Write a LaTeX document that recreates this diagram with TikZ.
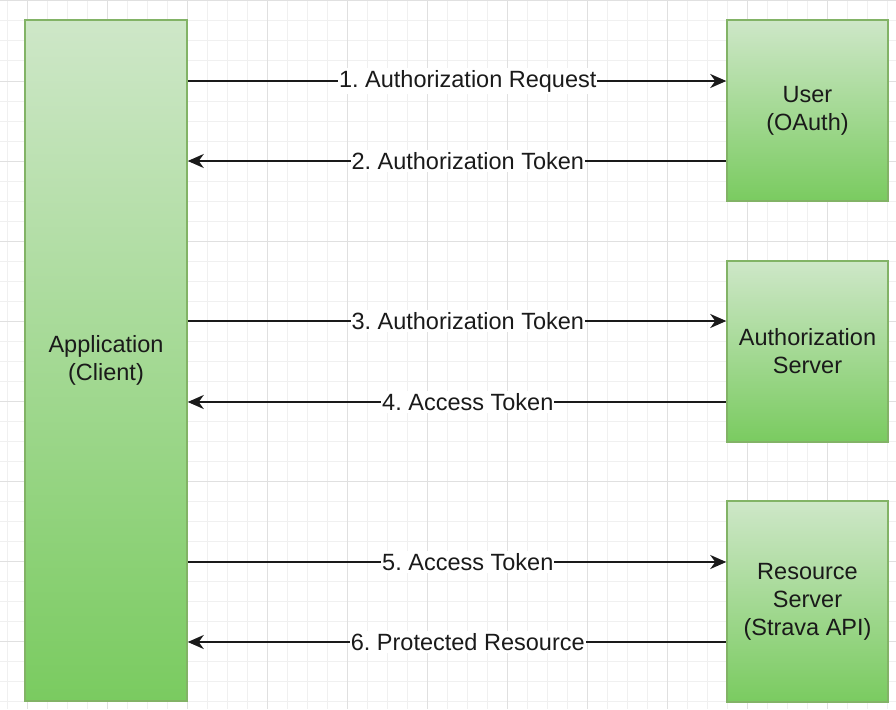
\documentclass[tikz,border=0pt]{standalone}
\usepackage{fontspec}
\setmainfont{Liberation Sans}
\usetikzlibrary{arrows.meta}
\definecolor{boxtop}{RGB}{206,231,200}
\definecolor{boxbot}{RGB}{122,203,96}
\definecolor{boxline}{RGB}{130,179,102}
\definecolor{ink}{RGB}{26,26,26}
\definecolor{gridminor}{RGB}{240,240,240}
\definecolor{gridmajor}{RGB}{224,224,224}
\frenchspacing
\tikzset{
  greenbox/.style={draw=boxline, line width=1.5pt, top color=boxtop, bottom color=boxbot,
    align=center, text=ink, inner sep=0pt, font=\fontsize{23.5}{28}\selectfont},
  flow/.style={draw=ink, line width=2pt, arrows={-Stealth[length=16pt,width=14pt,inset=5pt]}},
  backflow/.style={draw=ink, line width=2pt, arrows={Stealth[length=16pt,width=14pt,inset=5pt]-}},
  lbl/.style={fill=white, text=ink, inner xsep=1pt, inner ysep=2pt, font=\fontsize{23.5}{28}\selectfont}
}
\begin{document}
\begin{tikzpicture}[x=1pt,y=-1pt]
\useasboundingbox (0,0) rectangle (896,709);
\fill[white] (0,0) rectangle (896,709);
% grid
\foreach \gx in {7,27,...,887} \draw[gridminor, line width=1pt] (\gx,0) -- (\gx,709);
\foreach \gy in {1,21,...,701} \draw[gridminor, line width=1pt] (0,\gy) -- (896,\gy);
\foreach \gx in {27,107,...,827} \draw[gridmajor, line width=1pt] (\gx,0) -- (\gx,709);
\foreach \gy in {1,81,...,641} \draw[gridmajor, line width=1pt] (0,\gy) -- (896,\gy);
% boxes
\node[greenbox, minimum width=162pt, minimum height=681pt] (app) at (106,360.5) {Application\\(Client)};
\node[greenbox, minimum width=161pt, minimum height=181pt] (user) at (807.5,110.5) {User\\(OAuth)};
\node[greenbox, minimum width=161pt, minimum height=181pt] (auth) at (807.5,351.5) {Authorization\\Server};
\node[greenbox, minimum width=161pt, minimum height=201pt] (res) at (807.5,601.5) {Resource\\Server\\(Strava API)};
% rows
\coordinate (r1) at (0,81);
\coordinate (r2) at (0,161);
\coordinate (r3) at (0,321);
\coordinate (r4) at (0,402);
\coordinate (r5) at (0,562);
\coordinate (r6) at (0,642);
% connectors
\draw[flow] (app.east |- r1) -- (user.west |- r1) node[lbl, pos=0.52] {1. Authorization Request};
\draw[backflow] (app.east |- r2) -- (user.west |- r2) node[lbl, pos=0.52] {2. Authorization Token};
\draw[flow] (app.east |- r3) -- (auth.west |- r3) node[lbl, pos=0.52] {3. Authorization Token};
\draw[backflow] (app.east |- r4) -- (auth.west |- r4) node[lbl, pos=0.52] {4. Access Token};
\draw[flow] (app.east |- r5) -- (res.west |- r5) node[lbl, pos=0.52] {5. Access Token};
\draw[backflow] (app.east |- r6) -- (res.west |- r6) node[lbl, pos=0.52] {6. Protected Resource};
\end{tikzpicture}
\end{document}
